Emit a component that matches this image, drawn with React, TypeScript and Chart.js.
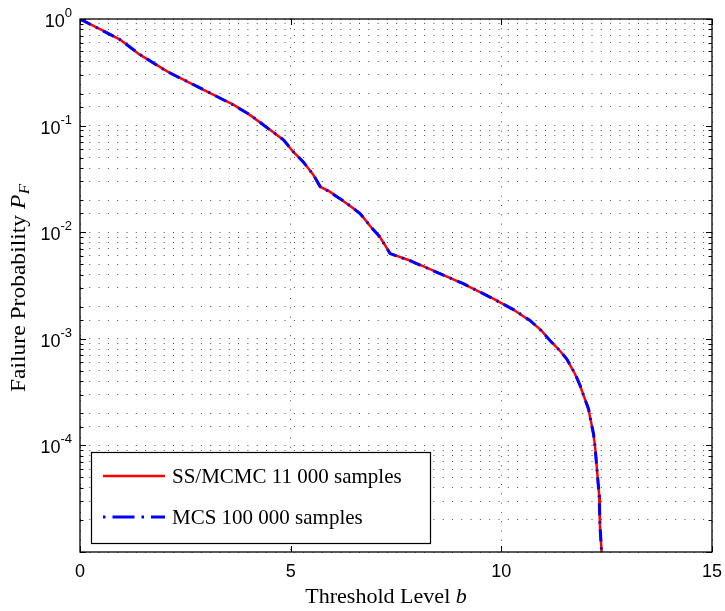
import React, { useEffect, useRef } from 'react';
import { Chart, registerables } from 'chart.js';

Chart.register(...registerables);

// Threshold level b
const thresholdLevels = [
  0, 0.5, 0.95, 1.42, 2.06, 2.85, 3.64, 4.03, 4.51, 4.83, 5.06, 5.3, 5.54, 5.7, 5.93, 6.33, 6.65, 6.96,
  7.12, 7.36, 7.83, 8.47, 9.1, 9.82, 10.3, 10.68, 10.95, 11.16, 11.39, 11.55, 11.75, 11.87, 11.97, 12.07,
  12.13, 12.19, 12.23, 12.26, 12.29, 12.32, 12.34, 12.36, 12.38, 12.39,
];
// SS/MCMC failure probability
const ssMcmcProbability = [
  1, 0.794, 0.641, 0.463, 0.324, 0.225, 0.157, 0.126, 0.0912, 0.0733, 0.0569, 0.0458, 0.0344, 0.0267,
  0.024, 0.0186, 0.015, 0.0105, 0.00902, 0.00631, 0.00543, 0.00422, 0.00328, 0.00237, 0.00186, 0.00148,
  0.0012, 0.000959, 0.000773, 0.000646, 0.000468, 0.000363, 0.000282, 0.000219, 0.000166, 0.000126,
  9.33e-5, 6.61e-5, 4.79e-5, 3.47e-5, 1.82e-5, 1.35e-5, 1.0e-5, 7.9e-6,
];
// MCS failure probability
const mcsProbability = [
  1, 0.79, 0.64, 0.465, 0.322, 0.226, 0.156, 0.127, 0.091, 0.0735, 0.057, 0.0455, 0.0345, 0.0268,
  0.0238, 0.0187, 0.0149, 0.0106, 0.009, 0.0063, 0.0054, 0.0042, 0.00329, 0.00236, 0.00187, 0.00149,
  0.00119, 0.00096, 0.00077, 0.00065, 0.00047, 0.000365, 0.00028, 0.00022, 0.000165, 0.000127, 9.3e-5,
  6.6e-5, 4.8e-5, 3.5e-5, 1.8e-5, 1.35e-5, 1.0e-5, 9.5e-6,
];

const xTickValues = [0, 5, 10, 15];
const yTickExponents = [0, -1, -2, -3, -4];
const seriesLabels = ['SS/MCMC 11 000 samples', 'MCS 100 000 samples'];
const xTitleText = 'Threshold Level ';
const xTitleVar = 'b';
const yTitleText = 'Failure Probability ';
const yTitleVar = 'P';
const yTitleSub = 'F';

const SERIF = '"Liberation Serif", "Times New Roman", serif';
const SANS = '"Liberation Sans", Arial, sans-serif';
const RED = '#ff0000';
const BLUE = '#0000ff';
const BLUE_DASH = [12, 6, 2, 6];

const isPow10 = (v: number) => {
  const l = Math.log10(v);
  return Math.abs(l - Math.round(l)) < 1e-9;
};

const decorPlugin = {
  id: 'decor',
  afterDraw(chart: any) {
    const { ctx, chartArea: ca } = chart;
    const xs = chart.scales.x;
    const ys = chart.scales.y;
    ctx.save();

    const line = (x1: number, y1: number, x2: number, y2: number) => {
      ctx.beginPath();
      ctx.moveTo(x1, y1);
      ctx.lineTo(x2, y2);
      ctx.stroke();
    };

    // axes box
    ctx.strokeStyle = '#000';
    ctx.lineWidth = 1.3;
    ctx.setLineDash([]);
    ctx.strokeRect(ca.left, ca.top, ca.right - ca.left, ca.bottom - ca.top);

    // tick marks (inside)
    ctx.lineWidth = 1;
    xTickValues.forEach((v) => {
      const px = Math.round(xs.getPixelForValue(v)) + 0.5;
      line(px, ca.bottom, px, ca.bottom - 6);
      line(px, ca.top, px, ca.top + 6);
    });
    ys.ticks.forEach((t: any) => {
      const py = Math.round(ys.getPixelForValue(t.value)) + 0.5;
      const len = isPow10(t.value) ? 6 : 3.5;
      line(ca.left, py, ca.left + len, py);
      line(ca.right, py, ca.right - len, py);
    });

    // x tick labels
    ctx.fillStyle = '#000';
    ctx.font = `18px ${SANS}`;
    ctx.textAlign = 'center';
    ctx.textBaseline = 'alphabetic';
    xTickValues.forEach((v) => {
      ctx.fillText(String(v), xs.getPixelForValue(v), ca.bottom + 25);
    });

    // y tick labels 10^k
    yTickExponents.forEach((e) => {
      const py = ys.getPixelForValue(Math.pow(10, e));
      const expStr = e === 0 ? '0' : '-' + String(-e);
      ctx.font = `13px ${SANS}`;
      const ew = ctx.measureText(expStr).width;
      ctx.font = `18px ${SANS}`;
      const bw = ctx.measureText('10').width;
      const right = ca.left - 8;
      ctx.textAlign = 'left';
      ctx.fillText('10', right - ew - bw, py + 8);
      ctx.font = `13px ${SANS}`;
      ctx.fillText(expStr, right - ew, py - 2);
    });

    // x title
    const xStretch = 1.05;
    ctx.font = `21px ${SERIF}`;
    const w1 = ctx.measureText(xTitleText).width;
    ctx.font = `italic 21px ${SERIF}`;
    const w2 = ctx.measureText(xTitleVar).width;
    const cx = (ca.left + ca.right) / 2 - 10;
    const sx = cx - ((w1 + w2) * xStretch) / 2;
    ctx.save();
    ctx.translate(sx, ca.bottom + 51);
    ctx.scale(xStretch, 1);
    ctx.textAlign = 'left';
    ctx.font = `21px ${SERIF}`;
    ctx.fillText(xTitleText, 0, 0);
    ctx.font = `italic 21px ${SERIF}`;
    ctx.fillText(xTitleVar, w1, 0);
    ctx.restore();

    // y title (rotated)
    const yStretch = 1.12;
    ctx.save();
    ctx.translate(25, 392);
    ctx.rotate(-Math.PI / 2);
    ctx.scale(yStretch, 1);
    ctx.textAlign = 'left';
    ctx.font = `21px ${SERIF}`;
    const t1 = ctx.measureText(yTitleText).width;
    ctx.fillText(yTitleText, 0, 0);
    ctx.font = `italic 21px ${SERIF}`;
    const t2 = ctx.measureText(yTitleVar).width;
    ctx.fillText(yTitleVar, t1, 0);
    ctx.font = `italic 15px ${SERIF}`;
    ctx.fillText(yTitleSub, t1 + t2 + 0.5, 4);
    ctx.restore();

    // legend
    const lx = ca.left + 11;
    const ly = ca.bottom - 100;
    const lw = 339;
    const lh = 91;
    ctx.fillStyle = '#fff';
    ctx.fillRect(lx, ly, lw, lh);
    ctx.strokeStyle = '#000';
    ctx.lineWidth = 1.2;
    ctx.strokeRect(lx + 0.5, ly + 0.5, lw, lh);

    const rows = [
      { y: ly + 24, color: RED, dash: [] as number[], width: 2.5 },
      { y: ly + 65, color: BLUE, dash: [2.5, 7, 22, 7], width: 3 },
    ];
    rows.forEach((r, i) => {
      ctx.strokeStyle = r.color;
      ctx.lineWidth = r.width;
      ctx.setLineDash(r.dash);
      line(lx + 12, r.y, lx + 74, r.y);
      ctx.setLineDash([]);
      ctx.fillStyle = '#000';
      ctx.font = `21px ${SERIF}`;
      ctx.textAlign = 'left';
      ctx.textBaseline = 'middle';
      ctx.fillText(seriesLabels[i], lx + 81, r.y + 1);
      ctx.textBaseline = 'alphabetic';
    });

    ctx.restore();
  },
};

export default function App() {
  const canvasRef = useRef<HTMLCanvasElement | null>(null);

  useEffect(() => {
    if (!canvasRef.current) return;
    const toPoints = (ys: number[]) => thresholdLevels.map((x, i) => ({ x, y: ys[i] }));
    const chart = new Chart(canvasRef.current, {
      type: 'line',
      data: {
        datasets: [
          {
            label: seriesLabels[0],
            data: toPoints(ssMcmcProbability),
            borderColor: RED,
            backgroundColor: RED,
            borderWidth: 2.5,
            pointRadius: 0,
            tension: 0,
            order: 1,
          },
          {
            label: seriesLabels[1],
            data: toPoints(mcsProbability),
            borderColor: BLUE,
            backgroundColor: BLUE,
            borderWidth: 3,
            borderDash: BLUE_DASH,
            pointRadius: 0,
            tension: 0,
            order: 0,
          },
        ],
      },
      options: {
        animation: false,
        responsive: true,
        maintainAspectRatio: false,
        layout: { padding: { left: 0, right: 13, top: 19, bottom: 0 } },
        plugins: {
          legend: { display: false },
          tooltip: { enabled: false },
          title: { display: false },
        },
        scales: {
          x: {
            type: 'linear',
            min: 0,
            max: 15,
            ticks: { display: false, stepSize: 5 },
            grid: { display: true, color: 'rgba(0,0,0,0.7)', lineWidth: 1, drawTicks: false },
            border: { display: false, dash: [1, 8.3] },
            afterFit: (scale: any) => {
              scale.height = 59;
            },
          },
          y: {
            type: 'logarithmic',
            min: 1e-5,
            max: 1,
            ticks: { display: false, autoSkip: false },
            grid: { display: true, color: 'rgba(0,0,0,0.7)', lineWidth: 1, drawTicks: false },
            border: { display: false, dash: [1, 8.3] },
            afterFit: (scale: any) => {
              scale.width = 80;
            },
          },
        },
      } as any,
      plugins: [decorPlugin],
    });
    return () => chart.destroy();
  }, []);

  return (
    <div style={{ position: 'fixed', left: 0, top: 0, width: 725, height: 611, background: '#fff' }}>
      <canvas ref={canvasRef} />
    </div>
  );
}
